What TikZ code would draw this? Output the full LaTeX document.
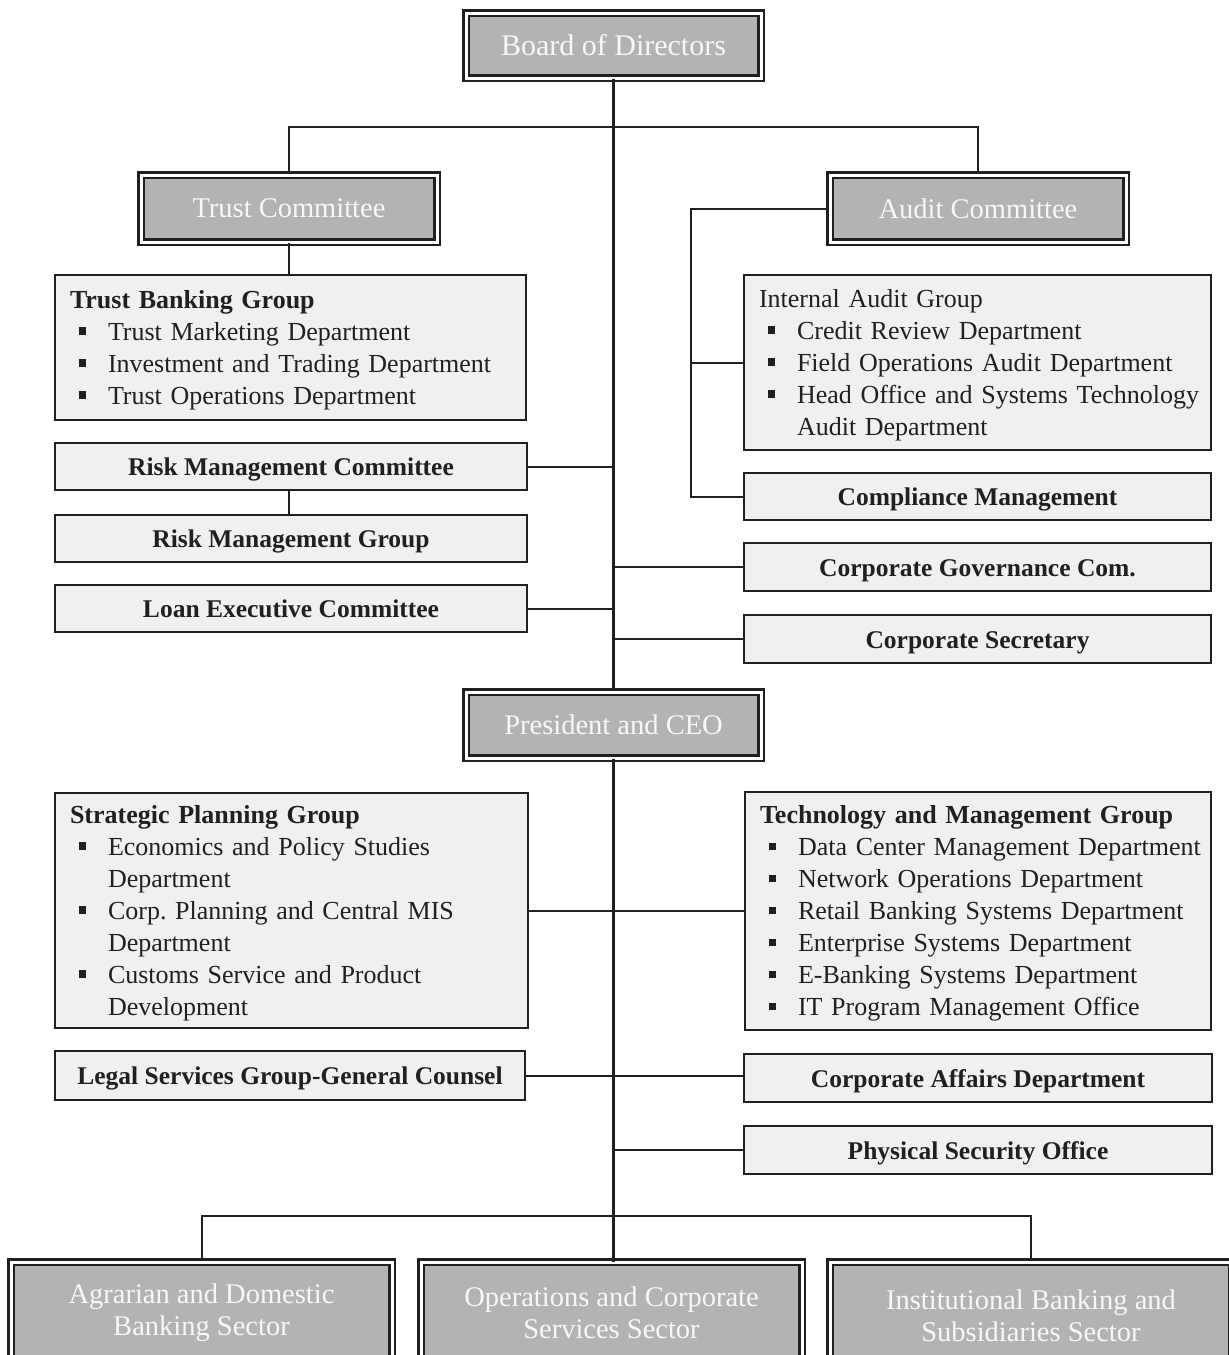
\documentclass[tikz,border=0pt]{standalone}
\usepackage{fontspec}
\setmainfont{Liberation Serif}
\frenchspacing
\definecolor{ink}{HTML}{231F20}
\definecolor{boxgray}{HTML}{B3B3B3}
\definecolor{boxlight}{HTML}{F0F0F0}
\definecolor{boxtext}{HTML}{F7F7F7}
% bullet item, continuation indent and a tall strut for the first list line
\newcommand\bul{\makebox[38pt][l]{\hspace{8.5pt}\rule[5.5pt]{7.5pt}{7.5pt}}}
\newcommand\cont{\hspace*{38pt}}
\newcommand\topstrut{\rule{0pt}{23pt}}
\tikzset{
  gbox/.style={draw=ink, line width=2.5pt, double=white, double distance=3pt,
    fill=boxgray, text=boxtext, align=center, inner sep=0pt,
    font=\fontsize{28.5}{32}\selectfont},
  lbox/.style={draw=ink, line width=2pt, fill=boxlight, text=ink, inner sep=0pt,
    text height=22pt, text depth=4pt,
    font=\fontsize{25.5}{30}\selectfont\bfseries},
  listbox/.style={draw=ink, line width=2pt, fill=boxlight, text=ink,
    inner xsep=15pt, inner ysep=0pt, align=left,
    font=\fontsize{26}{32}\selectfont},
  link/.style={draw=ink, line width=2pt},
  spine/.style={draw=ink, line width=2.5pt}
}
\begin{document}
\begin{tikzpicture}[x=1pt, y=-1pt]
\useasboundingbox (0,0) rectangle (1229,1355);
\clip (0,0) rectangle (1229,1355);

% ---- top level ----
\node[gbox, minimum width=295, minimum height=65, font=\fontsize{30}{32}\selectfont] (board) at (613.5,45.5) {Board of Directors};
\node[gbox, minimum width=296, minimum height=67] (trust) at (289,208.5) {Trust Committee};
\node[gbox, minimum width=296, minimum height=67] (audit) at (978,208.5) {Audit Committee};
\node[gbox, minimum width=295, minimum height=66] (ceo) at (613.5,725) {President and CEO};

% ---- left column under the board ----
\node[listbox, minimum width=471, minimum height=145, text width=441] (tbg) at (290.5,347.5)
  {\mbox{\topstrut\bfseries Trust Banking Group}\\
   \mbox{\bul Trust Marketing Department}\\
   \mbox{\bul Investment and Trading Department}\\
   \mbox{\bul Trust Operations Department}};
\node[lbox, minimum width=472, minimum height=47] (riskc) at (291,466.5) {Risk Management Committee};
\node[lbox, minimum width=472, minimum height=47] (riskg) at (291,538.5) {Risk Management Group};
\node[lbox, minimum width=472, minimum height=47] (loan) at (291,608.5) {Loan Executive Committee};

% ---- right column under the board ----
\node[listbox, minimum width=467, minimum height=175, text width=437] (iag) at (977.5,362.5)
  {\mbox{\topstrut Internal Audit Group}\\
   \mbox{\bul Credit Review Department}\\
   \mbox{\bul Field Operations Audit Department}\\
   \mbox{\bul Head Office and Systems Technology}\\
   \mbox{\cont Audit Department}};
\node[lbox, minimum width=467, minimum height=47] (compl) at (977.5,496.5) {Compliance Management};
\node[lbox, minimum width=467, minimum height=48] (gov) at (977.5,567) {Corporate Governance Com.};
\node[lbox, minimum width=467, minimum height=48] (sec) at (977.5,639) {Corporate Secretary};

% ---- under the president ----
\node[listbox, minimum width=473, minimum height=235, text width=443] (spg) at (291.5,910.5)
  {\mbox{\topstrut\bfseries Strategic Planning Group}\\
   \mbox{\bul Economics and Policy Studies}\\
   \mbox{\cont Department}\\
   \mbox{\bul Corp. Planning and Central MIS}\\
   \mbox{\cont Department}\\
   \mbox{\bul Customs Service and Product}\\
   \mbox{\cont Development}};
\node[listbox, minimum width=466, minimum height=238, text width=436] (tmg) at (978,911)
  {\mbox{\topstrut\bfseries Technology and Management Group}\\
   \mbox{\bul Data Center Management Department}\\
   \mbox{\bul Network Operations Department}\\
   \mbox{\bul Retail Banking Systems Department}\\
   \mbox{\bul Enterprise Systems Department}\\
   \mbox{\bul E-Banking Systems Department}\\
   \mbox{\bul IT Program Management Office}};
\node[lbox, minimum width=470, minimum height=49] (legal) at (290,1075.5) {Legal Services Group-General Counsel};
\node[lbox, minimum width=468, minimum height=48] (affairs) at (978,1078) {Corporate Affairs Department};
\node[lbox, minimum width=468, minimum height=48] (phys) at (978,1150) {Physical Security Office};

% ---- sectors ----
\node[gbox, minimum width=381, minimum height=102] (agr) at (201.5,1313) {Agrarian and Domestic\\Banking Sector};
\node[gbox, minimum width=381, minimum height=102] (ops) at (611.5,1313) {Operations and Corporate\\Services Sector};
\node[gbox, minimum width=402, minimum height=108] (inst) at (1031,1316) {Institutional Banking and\\Subsidiaries Sector};

% ---- connectors ----
\coordinate (tj) at (613.5,127);
\coordinate (av) at (691,208.5);
\coordinate (bj) at (613.5,1216);

\draw[spine] (board.south) -- (ceo.north);
\draw[spine] (ceo.south) -- (613.5,1262);
\draw[link] (trust.north) |- (tj) -| (audit.north);
\draw[link] (trust.south) -- (tbg.north -| trust.south);
\draw[link] (riskc.east) -- (riskc.east -| tj);
\draw[link] (riskc.south -| trust.south) -- (riskg.north -| trust.south);
\draw[link] (loan.east) -- (loan.east -| tj);
\draw[link] (audit.west) -- (av) |- (compl.west);
\draw[link] (iag.west) -- (iag.west -| av);
\draw[link] (gov.west) -- (gov.west -| tj);
\draw[link] (sec.west) -- (sec.west -| tj);
\draw[link] (spg.east) -- (spg.east -| tmg.west);
\draw[link] (legal.east) -- (legal.east -| affairs.west);
\draw[link] (phys.west) -- (phys.west -| tj);
\draw[link] (agr.north) |- (bj) -| (inst.north);
\end{tikzpicture}
\end{document}
